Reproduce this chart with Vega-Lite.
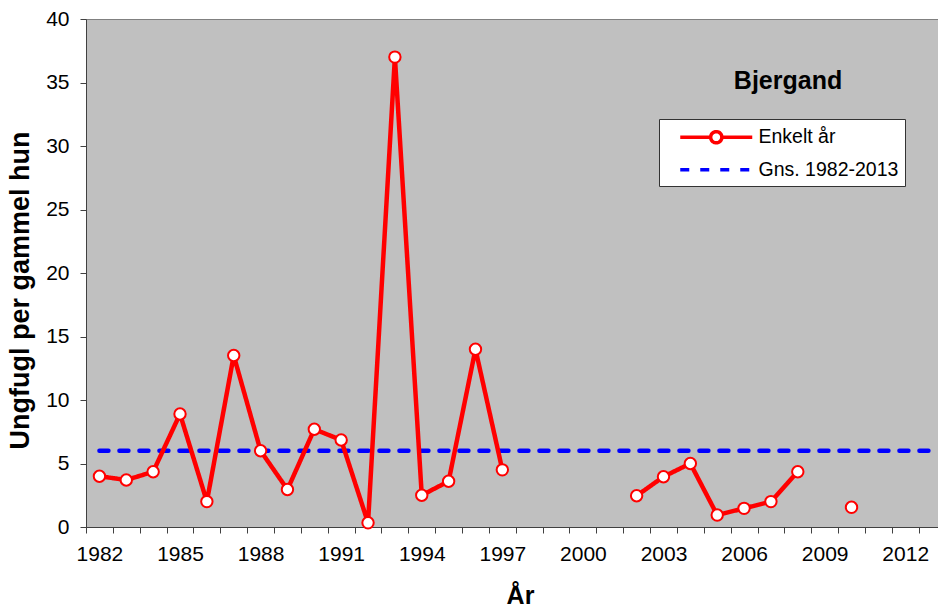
{
  "$schema": "https://vega.github.io/schema/vega-lite/v6.json",
  "width": 852,
  "height": 508,
  "autosize": {"type": "none"},
  "padding": {"left": 86, "top": 19, "right": 0, "bottom": 80},
  "background": "white",
  "title": {
    "text": "Bjergand",
    "anchor": "middle", "frame": "group", "orient": "top",
    "offset": 0, "baseline": "middle",
    "dx": 276, "dy": 98,
    "fontSize": 25, "fontWeight": "bold", "font": "Liberation Sans", "color": "#000000"
  },
  "config": {
    "font": "Liberation Sans",
    "view": {"fill": "#C0C0C0", "stroke": "#808080", "strokeWidth": 1},
    "axis": {"grid": false, "ticks": true, "tickWidth": 1, "domainColor": "#404040", "tickColor": "#404040", "labelColor": "#000000", "titleColor": "#000000", "labelFont": "Liberation Sans", "titleFont": "Liberation Sans"}
  },
  "datasets": {
    "enkelt": [
      {"year": 1982, "value": 4.0, "series": "Enkelt år"},
      {"year": 1983, "value": 3.7, "series": "Enkelt år"},
      {"year": 1984, "value": 4.35, "series": "Enkelt år"},
      {"year": 1985, "value": 8.9, "series": "Enkelt år"},
      {"year": 1986, "value": 2.0, "series": "Enkelt år"},
      {"year": 1987, "value": 13.5, "series": "Enkelt år"},
      {"year": 1988, "value": 6.0, "series": "Enkelt år"},
      {"year": 1989, "value": 2.95, "series": "Enkelt år"},
      {"year": 1990, "value": 7.7, "series": "Enkelt år"},
      {"year": 1991, "value": 6.85, "series": "Enkelt år"},
      {"year": 1992, "value": 0.33, "series": "Enkelt år"},
      {"year": 1993, "value": 37.0, "series": "Enkelt år"},
      {"year": 1994, "value": 2.5, "series": "Enkelt år"},
      {"year": 1995, "value": 3.6, "series": "Enkelt år"},
      {"year": 1996, "value": 14.0, "series": "Enkelt år"},
      {"year": 1997, "value": 4.5, "series": "Enkelt år"},
      {"year": 1998, "value": null, "series": "Enkelt år"},
      {"year": 1999, "value": null, "series": "Enkelt år"},
      {"year": 2000, "value": null, "series": "Enkelt år"},
      {"year": 2001, "value": null, "series": "Enkelt år"},
      {"year": 2002, "value": 2.46, "series": "Enkelt år"},
      {"year": 2003, "value": 3.96, "series": "Enkelt år"},
      {"year": 2004, "value": 5.0, "series": "Enkelt år"},
      {"year": 2005, "value": 0.94, "series": "Enkelt år"},
      {"year": 2006, "value": 1.47, "series": "Enkelt år"},
      {"year": 2007, "value": 2.0, "series": "Enkelt år"},
      {"year": 2008, "value": 4.35, "series": "Enkelt år"},
      {"year": 2009, "value": null, "series": "Enkelt år"},
      {"year": 2010, "value": 1.55, "series": "Enkelt år"},
      {"year": 2011, "value": null, "series": "Enkelt år"},
      {"year": 2012, "value": null, "series": "Enkelt år"},
      {"year": 2013, "value": null, "series": "Enkelt år"}
    ],
    "gns": [
      {"year": 1982, "value": 6.0, "series": "Gns. 1982-2013"},
      {"year": 2013, "value": 6.0, "series": "Gns. 1982-2013"}
    ]
  },
  "encoding": {
    "x": {
      "field": "year", "type": "quantitative",
      "scale": {"domain": [1981.5, 2013.22], "nice": false, "zero": false},
      "axis": {
        "title": "År",
        "titleFontSize": 25, "titleFontWeight": "bold", "titlePadding": 19, "titleX": 434,
        "values": [1982,1983,1984,1985,1986,1987,1988,1989,1990,1991,1992,1993,1994,1995,1996,1997,1998,1999,2000,2001,2002,2003,2004,2005,2006,2007,2008,2009,2010,2011,2012,2013],
        "format": "d",
        "labelExpr": "(datum.value - 1982) % 3 == 0 ? datum.label : ''",
        "labelOverlap": false,
        "labelFontSize": 21,
        "labelPadding": 10,
        "tickSize": 6,
        "tickOffset": -13.43,
        "labelOffset": 13.43
      }
    },
    "y": {
      "field": "value", "type": "quantitative",
      "scale": {"domain": [0, 40], "nice": false},
      "axis": {
        "title": "Ungfugl per gammel hun",
        "titleFontSize": 27, "titleFontWeight": "bold", "titlePadding": 11, "titleY": 271,
        "values": [0, 5, 10, 15, 20, 25, 30, 35, 40],
        "labelFontSize": 21, "labelPadding": 11, "tickSize": 6
      }
    }
  },
  "layer": [
    {
      "data": {"name": "gns"},
      "mark": {"type": "line", "strokeWidth": 4.5, "strokeCap": "round"},
      "encoding": {
        "color": {
          "field": "series", "type": "nominal",
          "scale": {"domain": ["Enkelt år", "Gns. 1982-2013"], "range": ["#FF0000", "#0000FF"]},
          "legend": {
            "title": null,
            "orient": "none", "legendX": 573, "legendY": 100,
            "fillColor": "white", "strokeColor": "#333333",
            "padding": 6.25, "rowPadding": 7.5,
            "symbolOffset": 39, "labelOffset": 30.25,
            "labelFontSize": 19.5, "labelFont": "Liberation Sans", "labelColor": "#000000",
            "symbolSize": 400, "symbolStrokeWidth": 3.5, "symbolType": "stroke",
            "encode": {
              "legend": {"update": {"width": {"value": 258}}},
              "symbols": {
                "update": {
                  "shape": {"signal": "datum.value === 'Enkelt år' ? 'M-3.6,0H-0.56A0.56,0.56 0 1,1 0.56,0A0.56,0.56 0 1,1 -0.56,0M0.56,0H3.6' : 'M-3.6,0H3.6'"},
                  "fill": {"value": "white"}
                }
              }
            }
          }
        },
        "strokeDash": {
          "field": "series", "type": "nominal",
          "scale": {"domain": ["Enkelt år", "Gns. 1982-2013"], "range": [[1, 0], [9, 11]]},
          "legend": null
        }
      }
    },
    {
      "data": {"name": "enkelt"},
      "mark": {"type": "line", "strokeWidth": 4.5, "invalid": "break-paths-show-domains"},
      "encoding": {
        "color": {"field": "series", "type": "nominal"},
        "strokeDash": {"field": "series", "type": "nominal"}
      }
    },
    {
      "data": {"name": "enkelt"},
      "mark": {"type": "point", "filled": false, "fill": "white", "fillOpacity": 1, "stroke": "#FF0000", "strokeWidth": 2, "size": 130, "opacity": 1}
    }
  ]
}
